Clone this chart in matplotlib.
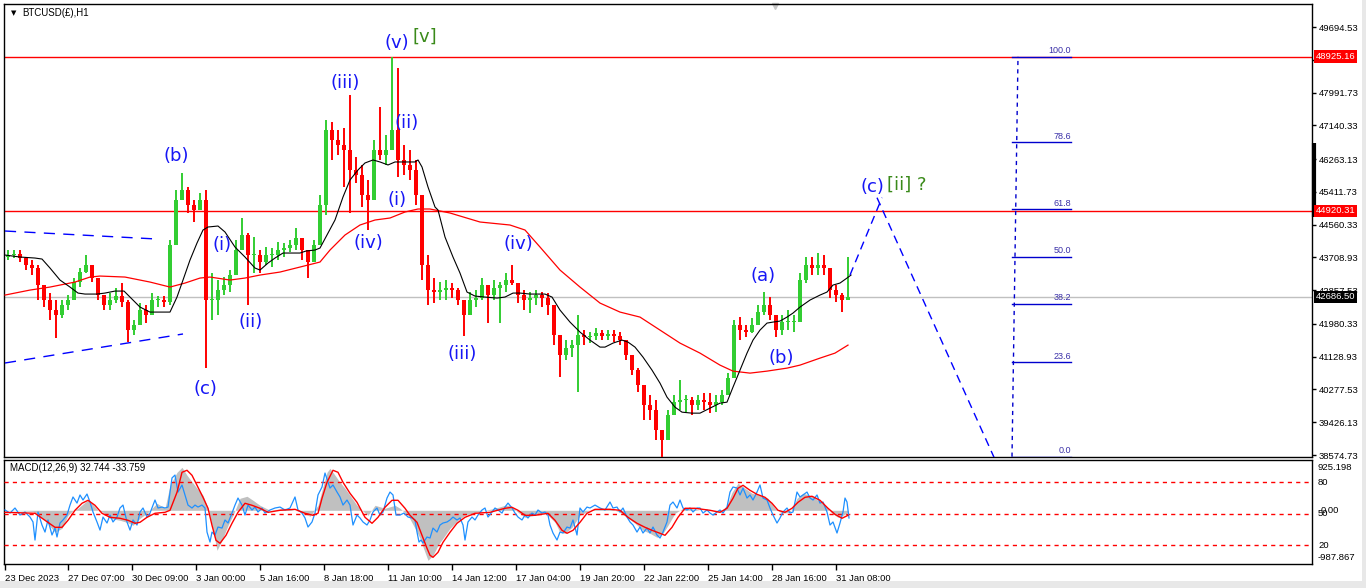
import numpy as np
import matplotlib
matplotlib.use("Agg")
import matplotlib.pyplot as plt
from matplotlib.transforms import blended_transform_factory
from matplotlib.patches import Rectangle

plt.rcParams['font.family'] = ['Liberation Sans', 'DejaVu Sans']

# ---------------- data ----------------
chart_title = "BTCUSD(£),H1"
macd_title = "MACD(12,26,9) 32.744 -33.759"

x_tick_bars = [5, 68, 132, 196, 260, 324, 388, 452, 516, 580, 644, 708, 772, 836]
x_tick_labels = ["23 Dec 2023", "27 Dec 07:00", "30 Dec 09:00", "3 Jan 00:00", "5 Jan 16:00",
                 "8 Jan 18:00", "11 Jan 10:00", "14 Jan 12:00", "17 Jan 04:00", "19 Jan 20:00",
                 "22 Jan 22:00", "25 Jan 14:00", "28 Jan 16:00", "31 Jan 08:00"]

price_ticks = [49694.53, 48843.13, 47991.73, 47140.33, 46263.13, 45411.73, 44560.33,
               43708.93, 42857.53, 41980.33, 41128.93, 40277.53, 39426.13, 38574.73]
price_range = (38522.8, 50292.1)
bar_range = (4, 1312)

# 6-hour candles built from the H1 chart
first_candle_bar = 8
bars_per_candle = 6
first_open = 43720.0
candle_high = [43900, 43900, 43900, 43718, 43640, 43510, 42990, 42782, 42600, 42600,
               42730, 43172, 43432, 43770, 43510, 43120, 42730, 42782, 42912, 43042,
               42600, 42080, 42522, 42470, 42782, 42704, 42704, 44160, 45460, 45902,
               45538, 45200, 45382, 45460, 43302, 43120, 43198, 43380, 44160, 44732,
               44342, 44238, 43900, 43978, 43952, 44108, 44082, 44160, 44472, 44212,
               43900, 44160, 45330, 47280, 47228, 47020, 47072, 47930, 46318, 46110,
               45720, 46760, 47618, 46890, 48925.16, 48632, 46630, 46500, 46240, 45330,
               43770, 43172, 43068, 43120, 43042, 42912, 42600, 42808, 42860, 43172,
               42990, 43120, 43068, 43302, 43510, 42912, 42860, 42808, 42860, 42808,
               42782, 42340, 41612, 41560, 41560, 42210, 41820, 41768, 41872, 41820,
               41820, 41820, 41768, 41560, 41170, 40832, 40390, 40130, 40000, 39220,
               39740, 40130, 40520, 40130, 40078, 40130, 40182, 40182, 40130, 40260,
               40702, 42080, 42158, 41950, 42132, 42470, 42808, 42678, 42210, 42210,
               42340, 42210, 43302, 43718, 43718, 43822, 43770, 43302, 42990, 42782,
               43718]
candle_low = [43640, 43692, 43588, 43380, 43250, 42600, 42418, 42080, 41612, 42132,
              42340, 42678, 42938, 43302, 43068, 42600, 42340, 42340, 42522, 42418,
              41508, 41690, 42080, 42002, 42210, 42418, 42418, 42470, 44758, 45200,
              44862, 44628, 44940, 40832, 42080, 42210, 42730, 42808, 43302, 43900,
              42470, 43302, 43302, 43510, 43458, 43640, 43718, 43848, 43900, 43640,
              43172, 43640, 44368, 44810, 46240, 46370, 45538, 44862, 45642, 45018,
              44420, 45460, 46240, 46110, 46500, 45798, 45850, 45720, 45070, 43120,
              42470, 42522, 42600, 42600, 42652, 42470, 41664, 42340, 42418, 42600,
              42002, 42600, 42002, 42808, 42990, 42522, 42340, 42262, 42470, 42418,
              42210, 41430, 40598, 41040, 41118, 40208, 41430, 41482, 41560, 41560,
              41560, 41508, 41430, 41040, 40650, 40208, 39480, 39480, 38960, 38518,
              38960, 39688, 39740, 39688, 39610, 39740, 39740, 39662, 39688, 39870,
              40130, 41040, 41560, 41638, 41742, 41950, 42210, 42080, 41638, 41690,
              41820, 41768, 42600, 43042, 43250, 43250, 43250, 42652, 42548, 42288,
              42600]
candle_close = [43770, 43796, 43692, 43510, 43432, 42990, 42600, 42340, 42210, 42470,
                42600, 43068, 43328, 43510, 43172, 42730, 42470, 42600, 42704, 42548,
                41820, 41950, 42340, 42210, 42600, 42600, 42548, 44030, 45200, 45460,
                45070, 44940, 45200, 42600, 42600, 42860, 42990, 43250, 43900, 44290,
                43770, 43770, 43588, 43770, 43770, 43900, 43952, 44030, 44212, 43900,
                43588, 44030, 45070, 47020, 46760, 46630, 46500, 45980, 45850, 45330,
                45200, 46500, 46370, 46500, 47020, 46240, 46110, 45980, 45330, 43510,
                42860, 42808, 42860, 42912, 42860, 42600, 42210, 42600, 42652, 42990,
                42730, 42912, 42990, 43120, 43042, 42730, 42600, 42652, 42730, 42652,
                42470, 41690, 41170, 41352, 41430, 41690, 41638, 41664, 41742, 41664,
                41716, 41664, 41560, 41170, 40780, 40390, 39870, 39740, 39220, 38960,
                39610, 39948, 40000, 40000, 39870, 40000, 39948, 39870, 39948, 40130,
                40572, 41950, 41820, 41768, 41950, 42288, 42470, 42210, 41820, 42028,
                42028, 42028, 43120, 43510, 43432, 43510, 43432, 42860, 42730, 42600,
                42686.5]

ma_fast_bar = [5, 20, 35, 42, 50, 60, 70, 78, 85, 97, 105, 115, 124, 130, 140, 150, 165, 170,
               177, 183, 190, 197, 203, 208, 218, 225, 235, 245, 255, 260, 268, 275, 283, 293,
               300, 306, 315, 320, 335, 343, 350, 358, 365, 373, 380, 388, 395, 405, 415, 418,
               422, 428, 435, 438, 445, 453, 460, 467, 475, 485, 497, 505, 513, 520, 530, 545,
               552, 560, 570, 580, 590, 600, 605, 613, 622, 628, 635, 643, 652, 660, 667, 675,
               682, 692, 700, 710, 720, 727, 733, 740, 747, 753, 760, 767, 773, 780, 787, 793,
               800, 810, 820, 827, 833, 840, 847, 851]
ma_fast_price = [43770, 43718, 43692, 43666, 43432, 43120, 42938, 42782, 42756, 42756, 42782,
                 42834, 42834, 42678, 42418, 42288, 42288, 42288, 42678, 43120, 43640, 44082,
                 44420, 44498, 44524, 44368, 43978, 43718, 43432, 43380, 43562, 43692, 43822,
                 43822, 43822, 43874, 43900, 43952, 44680, 45278, 45720, 45980, 46162, 46240,
                 46188, 46110, 46188, 46188, 46188, 46240, 46058, 45538, 45018, 44940, 44238,
                 43718, 43302, 42808, 42704, 42678, 42652, 42678, 42782, 42782, 42756, 42756,
                 42678, 42340, 42028, 41768, 41560, 41378, 41378, 41482, 41560, 41508, 41378,
                 41118, 40780, 40442, 40078, 39818, 39688, 39662, 39662, 39792, 39922, 39948,
                 40338, 40780, 41222, 41560, 41820, 42002, 42028, 42054, 42158, 42262, 42418,
                 42600, 42730, 42808, 42990, 43042, 43172, 43250]

ma_slow_bar = [5, 30, 50, 75, 90, 100, 125, 150, 170, 185, 200, 210, 230, 245, 260, 280, 300,
               320, 330, 345, 360, 375, 390, 405, 418, 430, 450, 480, 510, 525, 540, 560, 580,
               600, 620, 640, 660, 680, 700, 720, 733, 750, 767, 787, 800, 820, 835, 848]
ma_slow_price = [42730, 42860, 42938, 43068, 43198, 43224, 43198, 43068, 42938, 43042, 43172,
                 43198, 43120, 43172, 43250, 43328, 43458, 43588, 43900, 44290, 44550, 44680,
                 44732, 44888, 44966, 44966, 44862, 44628, 44550, 44420, 43978, 43380, 42938,
                 42522, 42288, 42158, 41820, 41482, 41222, 40910, 40754, 40702, 40754, 40832,
                 40910, 41092, 41222, 41430]

resistance_levels = [48925.16, 44920.31]
last_price = 42686.50
thumb_prices = (46681, 44758)

triangle_upper = ([5, 157], [44394, 44186])
triangle_lower = ([5, 183], [40965, 41719])
projection_up = ([850, 882], [43250, 45260])
projection_down = ([877, 996], [45260, 38400])

fib_low, fib_high = 38530.0, 48925.16
fib_levels = [0.0, 23.6, 38.2, 50.0, 61.8, 78.6, 100.0]
fib_bars = (1012, 1071)
fib_trend_bars = (1012, 1018)

wave_labels = ["(v)", "(iii)", "(ii)", "(i)", "(iv)", "(b)", "(i)", "(ii)", "(c)",
               "(iv)", "(iii)", "(a)", "(b)", "(c)"]
wave_bars = [397, 345, 407, 397, 368, 176, 222, 251, 205, 518, 462, 763, 781, 872]
wave_prices = [49279, 48240, 47200, 45200, 44083, 46343, 44031, 42030, 40290,
               44057, 41199, 43226, 41095, 45538]
degree_labels = ["[v]", "[ii] ?"]
degree_bars = [412, 887]
degree_prices = [49435, 45590]

macd_range = (-987.867, 925.198)
hist_bar = [5, 33, 45, 55, 62, 68, 72, 78, 85, 88, 92, 98, 103, 110, 120, 127, 133, 140, 148,
            157, 165, 170, 177, 182, 187, 197, 203, 208, 212, 217, 222, 228, 233, 240, 247,
            253, 260, 270, 285, 300, 310, 318, 322, 327, 330, 335, 340, 345, 350, 357, 362,
            368, 375, 385, 395, 400, 408, 415, 420, 425, 428, 433, 438, 443, 450, 458, 465,
            475, 485, 495, 505, 510, 518, 525, 535, 545, 555, 560, 565, 572, 580, 590, 600,
            610, 620, 628, 635, 643, 650, 657, 663, 668, 675, 683, 690, 700, 710, 720, 727,
            732, 738, 745, 752, 760, 768, 775, 782, 790, 797, 803, 810, 818, 825, 832, 838,
            843, 848]
hist_val = [0, -20, -184, -405, -331, -92, -20, 37, 147, 184, 129, 0, -37, -147, -184, -221,
            -276, -147, -37, 129, 37, 460, 699, 791, 644, 405, 276, 37, -276, -736, -552,
            -276, -92, 221, 258, 184, 92, 0, 37, -20, -110, 92, 368, 699, 773, 644, 515, 405,
            276, 92, 0, -92, 92, 37, 92, 37, -92, -331, -515, -773, -920, -828, -644, -515,
            -331, -184, -92, -37, 0, 37, 92, 92, -37, -129, -92, -37, -221, -405, -423, -313,
            -92, 0, 37, 37, -37, -147, -239, -368, -423, -497, -423, -276, -55, 37, 37, 0, 0,
            -37, 92, 331, 497, 405, 313, 276, 221, 37, -55, -37, 221, 313, 276, 184, 92, -55,
            -129, -92, -37]

signal_bar = [5, 35, 45, 55, 62, 68, 75, 82, 88, 95, 102, 110, 120, 128, 135, 140, 147, 155,
              165, 170, 177, 182, 187, 192, 197, 203, 208, 212, 216, 220, 226, 232, 238, 245,
              252, 260, 268, 280, 295, 305, 313, 318, 322, 327, 333, 338, 343, 350, 357, 365,
              372, 378, 385, 392, 398, 405, 410, 417, 422, 427, 430, 433, 438, 443, 450, 457,
              465, 475, 490, 505, 512, 518, 525, 535, 548, 555, 562, 567, 573, 580, 587, 595,
              610, 620, 628, 637, 645, 652, 660, 665, 672, 678, 685, 695, 710, 720, 727, 733,
              738, 743, 750, 757, 765, 772, 778, 785, 792, 798, 805, 812, 820, 828, 835, 842,
              848]
signal_val = [-37, -55, -184, -313, -313, -184, 0, 129, 184, 92, -55, -129, -147, -184, -239,
              -221, -129, -55, -37, 0, 331, 699, 736, 644, 460, 239, 37, -276, -552, -607,
              -460, -239, -37, 129, 92, 37, -37, 0, 18, -55, -92, -55, 221, 515, 736, 699, 515,
              313, 147, -129, -239, -129, 55, 184, 184, 37, -92, -221, -460, -699, -828, -865,
              -773, -589, -405, -239, -129, -55, -37, 37, 55, 0, -92, -92, -55, -184, -368,
              -423, -368, -221, -55, 18, 18, 0, -129, -239, -313, -368, -423, -460, -313, -129,
              37, 37, 0, -37, 37, 221, 405, 460, 368, 294, 239, 129, 0, -37, 37, 147, 239, 258,
              184, 37, -74, -147, -92]

osc_range = (2, 101)
osc_levels = [80, 50, 20]
osc_bar = [5, 10, 15, 20, 25, 30, 33, 35, 38, 42, 45, 48, 52, 55, 57, 60, 63, 67, 70, 73, 77,
           80, 83, 87, 90, 93, 97, 100, 103, 107, 110, 113, 117, 120, 123, 127, 130, 133, 137,
           140, 143, 147, 150, 155, 158, 162, 165, 168, 172, 175, 178, 182, 185, 188, 192, 195,
           198, 202, 205, 207, 210, 212, 215, 218, 222, 225, 228, 232, 235, 238, 242, 245, 248,
           252, 255, 258, 262, 265, 270, 275, 280, 285, 290, 295, 298, 302, 305, 308, 312, 315,
           318, 322, 325, 328, 330, 333, 337, 340, 343, 347, 350, 353, 357, 360, 363, 367, 370,
           373, 377, 380, 383, 387, 390, 393, 396, 400, 404, 408, 412, 415, 417, 419, 421, 423,
           427, 430, 433, 437, 440, 443, 447, 450, 453, 457, 460, 463, 465, 468, 472, 475, 478,
           482, 485, 488, 492, 495, 498, 502, 505, 508, 512, 515, 518, 522, 525, 528, 532, 535,
           538, 542, 545, 548, 550, 553, 557, 560, 563, 567, 570, 573, 577, 580, 583, 587, 590,
           595, 600, 605, 610, 613, 617, 620, 623, 627, 630, 633, 637, 640, 643, 647, 650, 653,
           657, 660, 663, 667, 670, 673, 677, 680, 683, 687, 690, 693, 697, 700, 703, 707, 710,
           713, 717, 720, 723, 727, 730, 733, 737, 740, 743, 747, 750, 753, 757, 760, 763, 767,
           770, 773, 777, 780, 783, 787, 790, 793, 797, 800, 803, 807, 810, 813, 817, 820, 823,
           827, 830, 833, 837, 840, 843, 845, 847, 849]
osc_val = [53.4, 50.5, 55.3, 48.6, 51.5, 46.7, 42.0, 24.8, 51.5, 39.1, 32.4, 43.9, 29.6, 36.2,
           27.7, 41.0, 43.9, 48.6, 58.1, 65.8, 60.0, 67.7, 62.9, 68.6, 61.0, 51.5, 42.0, 34.3,
           46.7, 41.0, 48.6, 42.0, 46.7, 55.3, 58.1, 42.0, 34.3, 43.9, 39.1, 51.5, 55.3, 46.7,
           50.5, 62.9, 55.3, 56.2, 55.3, 56.2, 83.9, 86.7, 70.5, 77.2, 67.7, 58.1, 55.3, 58.1,
           56.2, 58.1, 55.3, 32.4, 22.9, 32.4, 29.6, 37.2, 36.2, 43.9, 41.0, 50.5, 58.1, 64.8,
           58.1, 48.6, 58.1, 53.4, 56.2, 51.5, 55.3, 50.5, 53.4, 55.3, 56.2, 53.4, 55.3, 65.8,
           53.4, 50.5, 45.8, 37.2, 42.0, 50.5, 67.7, 75.3, 88.6, 80.0, 74.3, 77.2, 70.5, 65.8,
           58.1, 62.9, 58.1, 39.1, 48.6, 45.8, 42.0, 39.1, 43.9, 51.5, 55.3, 48.6, 51.5, 64.8,
           70.5, 67.7, 48.6, 48.6, 50.5, 46.7, 45.8, 43.9, 32.4, 22.9, 24.8, 22.0, 27.7, 26.7,
           36.2, 32.4, 39.1, 41.0, 42.0, 43.9, 46.7, 43.9, 45.8, 39.1, 24.8, 42.0, 46.7, 43.9,
           48.6, 53.4, 55.3, 46.7, 51.5, 55.3, 53.4, 50.5, 56.2, 60.0, 55.3, 50.5, 46.7, 43.9,
           48.6, 45.8, 50.5, 48.6, 53.4, 50.5, 51.5, 48.6, 39.1, 31.5, 24.8, 32.4, 31.5, 37.2,
           36.2, 43.9, 29.6, 55.3, 51.5, 56.2, 55.3, 58.1, 55.3, 53.4, 61.0, 55.3, 56.2, 51.5,
           55.3, 46.7, 42.0, 39.1, 32.4, 37.2, 31.5, 36.2, 31.5, 37.2, 29.6, 26.7, 32.4, 42.0,
           58.1, 61.0, 55.3, 62.9, 55.3, 53.4, 55.3, 51.5, 55.3, 55.3, 50.5, 53.4, 50.5, 48.6,
           51.5, 53.4, 50.5, 56.2, 70.5, 75.3, 74.3, 67.7, 74.3, 64.8, 67.7, 62.9, 70.5, 77.2,
           64.8, 62.9, 55.3, 48.6, 41.0, 45.8, 51.5, 55.3, 50.5, 51.5, 70.5, 65.8, 67.7, 70.5,
           64.8, 62.9, 67.7, 60.0, 61.0, 51.5, 39.1, 42.0, 31.5, 41.0, 51.5, 64.8, 61.0, 45.8]

# ---------------- colours ----------------
UP = "#32CD32"
DOWN = "#FF0000"
WAVE_BLUE = "#1616F5"
DEGREE_GREEN = "#3A8A1A"
FIB_BLUE = "#0000CD"
FIB_TEXT = "#3A30A8"

# ---------------- figure ----------------
W, H = 1366, 588
fig = plt.figure(figsize=(W / 100, H / 100), dpi=100, facecolor="white")
ax = fig.add_axes([4 / W, (H - 457) / H, 1308 / W, 453 / H])
axm = fig.add_axes([4 / W, (H - 564) / H, 1308 / W, 104 / H])

# window frame decorations
fig.patches.append(Rectangle((0, 0), 1, 7 / H, transform=fig.transFigure,
                             facecolor="#E8E8E8", edgecolor="none", zorder=0))
fig.patches.append(Rectangle((1362 / W, 0), 4 / W, 1, transform=fig.transFigure,
                             facecolor="#E8E8E8", edgecolor="none", zorder=0))

# ---- main price panel ----
ax.set_xlim(*bar_range)
ax.set_ylim(*price_range)

n = len(candle_close)
cbar = first_candle_bar + bars_per_candle * np.arange(n)
close = np.array(candle_close, dtype=float)
opens = np.concatenate([[first_open], close[:-1]])
highs = np.maximum(np.array(candle_high, dtype=float), np.maximum(opens, close))
lows = np.minimum(np.array(candle_low, dtype=float), np.minimum(opens, close))
colors = [UP if c >= o else DOWN for o, c in zip(opens, close)]

ax.axhline(last_price, color="#C0C0C0", lw=1, zorder=1)
for lvl in resistance_levels:
    ax.axhline(lvl, color="#FF0000", lw=1, zorder=2)

ax.vlines(cbar, lows, highs, colors=colors, lw=1.4, zorder=3)
body_low = np.minimum(opens, close)
body_h = np.maximum(np.abs(close - opens), 25)
ax.bar(cbar, body_h, bottom=body_low, width=4.2, color=colors, linewidth=0, zorder=3)

ax.plot(ma_slow_bar, ma_slow_price, color="#FF0000", lw=0.9, zorder=4)
ax.plot(ma_fast_bar, ma_fast_price, color="black", lw=0.8, zorder=4)

ax.plot(*triangle_upper, color="#0000FF", lw=1, dashes=(8, 6), zorder=4)
ax.plot(*triangle_lower, color="#0000FF", lw=1, dashes=(8, 6), zorder=4)
ax.plot(*projection_up, color="#0000FF", lw=1, dashes=(6, 4), zorder=4)
ax.plot(*projection_down, color="#0000FF", lw=1, dashes=(6, 4), zorder=4)

# fibonacci retracement
for lvl in fib_levels:
    price = fib_low + (fib_high - fib_low) * lvl / 100.0
    ax.plot(fib_bars, [price, price], color=FIB_BLUE, lw=1, zorder=5)
    ax.text(fib_bars[1], price + 40, f"{lvl:.1f}", ha="right", va="bottom",
            fontsize=6.5, color=FIB_TEXT, zorder=6)
ax.plot(fib_trend_bars, [fib_low, fib_high], color=FIB_BLUE, lw=1, dashes=(3, 3), zorder=5)

for t, xb, pr in zip(wave_labels, wave_bars, wave_prices):
    ax.text(xb, pr, t, ha="center", va="center", fontsize=13, color=WAVE_BLUE,
            family="DejaVu Sans", zorder=7)
for t, xb, pr in zip(degree_labels, degree_bars, degree_prices):
    ax.text(xb, pr, t, ha="left", va="center", fontsize=13, color=DEGREE_GREEN,
            family="DejaVu Sans", zorder=7)

ax.text(10 / 1308, 1 - 9 / 453, "▼", transform=ax.transAxes, fontsize=5,
        va="center", ha="center", family=["DejaVu Sans"])
ax.text(18 / 1308, 1 - 9 / 453, chart_title, transform=ax.transAxes, fontsize=7,
        va="center", ha="left")
ax.plot([771 / 1308], [1.0 - 2 / 453], marker="v", color="#C8C8C8", markersize=4.5,
        transform=ax.transAxes, clip_on=False)

ax.yaxis.tick_right()
ax.set_yticks(price_ticks)
ax.set_yticklabels([f"{v:.2f}" for v in price_ticks])
ax.tick_params(axis="y", direction="out", length=3, width=1, pad=2, labelsize=6.8,
               right=True, left=False)
ax.set_xticks([])
for s in ax.spines.values():
    s.set_linewidth(1)
    s.set_color("black")

btrans = blended_transform_factory(ax.transAxes, ax.transData)
ax.plot([1 + 1.5 / 1308] * 2, list(thumb_prices), color="black", lw=3,
        transform=btrans, clip_on=False, solid_capstyle="butt")
for lvl, fc in [(resistance_levels[0], "#FF0000"), (resistance_levels[1], "#FF0000"),
                (last_price, "black")]:
    ax.text(1 + 4 / 1308, lvl, f"{lvl:.2f}", transform=btrans, ha="left", va="center",
            fontsize=6.8, color="white", zorder=10, clip_on=False,
            bbox=dict(boxstyle="square,pad=0.18", fc=fc, ec="none"))

# ---- MACD panel ----
axm.set_xlim(*bar_range)
axm.set_ylim(*macd_range)
axm.fill_between(hist_bar, 0, hist_val, color="#C0C0C0", lw=0, zorder=1)

axo = axm.twinx()
axo.set_ylim(*osc_range)
axo.patch.set_visible(False)
for lvl in osc_levels:
    axo.axhline(lvl, color="#FF0000", lw=1, dashes=(3, 3))
axo.plot(osc_bar, osc_val, color="#1E90FF", lw=0.9)

axs = axm.twinx()
axs.set_ylim(*macd_range)
axs.patch.set_visible(False)
axs.plot(signal_bar, signal_val, color="#FF0000", lw=1)

for a in (axo, axs):
    a.set_yticks([])
    a.set_xlim(*bar_range)
    for s in a.spines.values():
        s.set_visible(False)

axm.set_yticks([])
axm.set_xticks(x_tick_bars)
axm.set_xticklabels(x_tick_labels, ha="left")
axm.tick_params(axis="x", direction="out", length=4, width=1, pad=3, labelsize=6.8)
for s in axm.spines.values():
    s.set_linewidth(1)
    s.set_color("black")

axm.text(6 / 1308, 1 - 8 / 104, macd_title, transform=axm.transAxes, fontsize=7,
         va="center", ha="left")
otrans = blended_transform_factory(axm.transAxes, axo.transData)
mtrans = blended_transform_factory(axm.transAxes, axm.transData)
rx = 1 + 6 / 1308
axm.text(rx, 1 - 7 / 104, "925.198", transform=axm.transAxes, fontsize=6.8, va="center", ha="left")
axm.text(rx, 6 / 104, "-987.867", transform=axm.transAxes, fontsize=6.8, va="center", ha="left")
for lvl in osc_levels:
    axm.text(rx, lvl, f"{lvl}", transform=otrans, fontsize=6.8, va="center", ha="left")
axm.text(rx + 3 / 1308, 0, "0.00", transform=mtrans, fontsize=6.8, va="center", ha="left")

fig.savefig("out.png", dpi=100, facecolor="white")
